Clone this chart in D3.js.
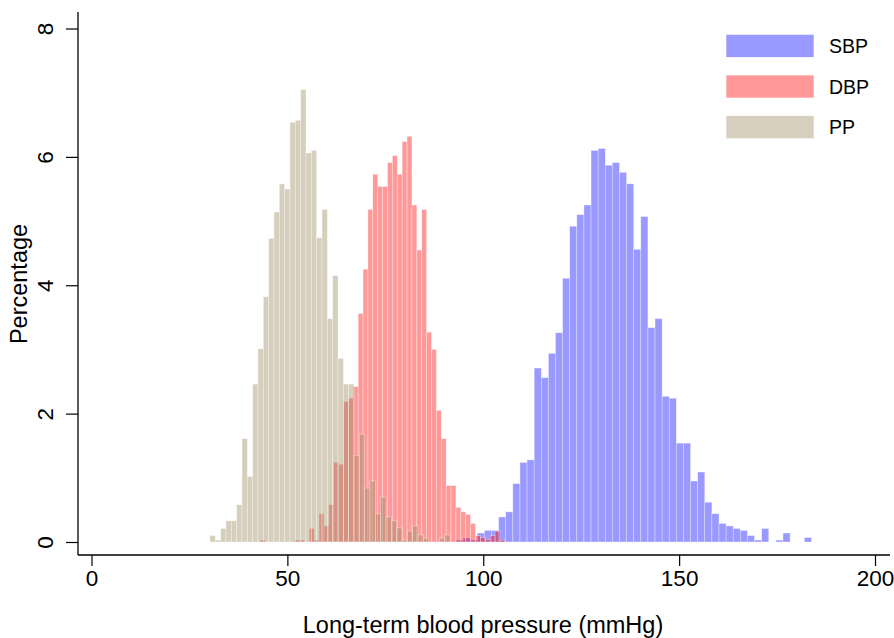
<!DOCTYPE html>
<html>
<head>
<meta charset="utf-8">
<script src="https://cdn.jsdelivr.net/npm/d3@7"></script>
<style>
  html, body { margin: 0; padding: 0; background: #fff; }
  svg { display: block; font-family: "Liberation Sans", Arial, Helvetica, sans-serif; }
</style>
</head>
<body>
<svg id="chart" width="894" height="638"></svg>
<script>
// ---------------- data ----------------
const seriesNames = ["SBP", "DBP", "PP"];

// histogram bin layout (value of first bin edge, bin width, in mmHg)
const sbpStart = 93.04, sbpWidth = 1.8146;
const dbpStart = 43.11, dbpWidth = 1.248;
const ppStart  = 30.25, ppWidth  = 1.3614;

// percentages per bin
const sbpValues = [0.03, 0.06, 0.03, 0.14, 0.18, 0.18, 0.39, 0.47, 0.91, 1.24,
                   1.28, 2.71, 2.56, 2.94, 3.26, 4.11, 4.92, 5.10, 5.25, 6.10,
                   6.13, 5.87, 5.91, 5.76, 5.58, 4.56, 5.07, 3.34, 3.48, 2.27,
                   2.24, 1.54, 1.54, 0.95, 1.09, 0.62, 0.44, 0.29, 0.25, 0.21,
                   0.18, 0.10, 0.03, 0.21, 0.00, 0.03, 0.14, 0.00, 0.00, 0.07];
const dbpValues = [0.03, 0.00, 0.00, 0.00, 0.00, 0.00, 0.00, 0.03, 0.03, 0.00,
                   0.21, 0.03, 0.44, 0.25, 0.58, 1.24, 1.21, 2.19, 2.24, 2.42,
                   3.56, 4.25, 5.18, 5.73, 5.54, 5.54, 5.91, 6.02, 5.73, 6.24,
                   6.32, 5.25, 4.55, 5.18, 3.27, 3.00, 2.05, 1.61, 0.88, 0.88,
                   0.54, 0.47, 0.43, 0.29, 0.10, 0.07, 0.04, 0.10, 0.17, 0.03];
const ppValues  = [0.10, 0.03, 0.21, 0.33, 0.33, 0.58, 1.61, 1.02, 2.46, 3.01,
                   3.82, 4.73, 5.14, 5.58, 5.50, 6.54, 6.57, 7.05, 6.06, 6.10,
                   4.74, 5.18, 3.48, 4.15, 2.86, 2.46, 2.46, 1.35, 1.68, 0.84,
                   0.95, 0.44, 0.70, 0.39, 0.33, 0.22, 0.03, 0.17, 0.25, 0.11,
                   0.06, 0.00, 0.00, 0.06, 0.11];

const xTicks = [0, 50, 100, 150, 200];
const yTicks = [0, 2, 4, 6, 8];
const xTitle = "Long-term blood pressure (mmHg)";
const yTitle = "Percentage";

// ---------------- drawing ----------------
const svg = d3.select("#chart");
const colors = { SBP: "rgb(0,0,255)", DBP: "rgb(255,0,0)", PP: "rgb(153,135,90)" };
const fillOpacity = 0.4;

const x = d3.scaleLinear().domain([0, 200]).range([91.5, 875]);
const y = d3.scaleLinear().domain([0, 8]).range([542, 28.5]);

const axisX = 78, axisY = 555;
const tickFont = 22.5, titleFont = 23.5, legendFont = 19.5;

function bins(values, start, width) {
  return values.map((v, i) => ({ x0: start + i * width, x1: start + (i + 1) * width, v }));
}
const data = {
  SBP: bins(sbpValues, sbpStart, sbpWidth),
  DBP: bins(dbpValues, dbpStart, dbpWidth),
  PP:  bins(ppValues, ppStart, ppWidth)
};

const plot = svg.append("g");
seriesNames.forEach(name => {
  plot.append("g").selectAll("rect")
    .data(data[name].filter(d => d.v > 0))
    .join("rect")
    .attr("x", d => x(d.x0))
    .attr("width", d => x(d.x1) - x(d.x0))
    .attr("y", d => y(d.v))
    .attr("height", d => y(0) - y(d.v))
    .attr("fill", colors[name])
    .attr("fill-opacity", fillOpacity)
    .attr("stroke", "#ffffff")
    .attr("stroke-opacity", 0.55)
    .attr("stroke-width", 0.6);
});

// axes lines
svg.append("line").attr("x1", axisX).attr("x2", axisX).attr("y1", 12).attr("y2", axisY)
  .attr("stroke", "#000").attr("stroke-width", 1.3);
svg.append("line").attr("x1", axisX).attr("x2", 890).attr("y1", axisY).attr("y2", axisY)
  .attr("stroke", "#000").attr("stroke-width", 1.3);

// x axis
const gx = svg.append("g").attr("transform", `translate(0,${axisY})`)
  .call(d3.axisBottom(x).tickValues(xTicks).tickSize(11).tickPadding(4).tickFormat(d3.format("d")));
gx.select(".domain").remove();
gx.selectAll(".tick line").attr("stroke", "#000").attr("stroke-width", 1.2);
gx.selectAll(".tick text").attr("font-size", tickFont).attr("fill", "#000")
  .attr("font-family", "'Liberation Sans', Arial, sans-serif");

// y axis
const gy = svg.append("g").attr("transform", `translate(${axisX},0)`)
  .call(d3.axisLeft(y).tickValues(yTicks).tickSize(12).tickPadding(0).tickFormat(d3.format("d")));
gy.select(".domain").remove();
gy.selectAll(".tick line").attr("stroke", "#000").attr("stroke-width", 1.2);
gy.selectAll(".tick text")
  .attr("font-size", tickFont).attr("fill", "#000")
  .attr("font-family", "'Liberation Sans', Arial, sans-serif")
  .attr("x", 0).attr("dy", null)
  .attr("text-anchor", "middle")
  .attr("dominant-baseline", "central")
  .attr("transform", "translate(-33,0) rotate(-90)");

// titles
svg.append("text").attr("x", 483).attr("y", 625).attr("text-anchor", "middle")
  .attr("dominant-baseline", "central")
  .attr("font-size", titleFont).attr("fill", "#000").text(xTitle);
svg.append("text").attr("transform", "translate(19,284) rotate(-90)")
  .attr("text-anchor", "middle").attr("dominant-baseline", "central")
  .attr("font-size", titleFont).attr("fill", "#000").text(yTitle);

// legend
const legend = svg.append("g");
seriesNames.forEach((name, i) => {
  const top = 34.3 + i * 40.7;
  legend.append("rect").attr("x", 726).attr("y", top).attr("width", 88).attr("height", 23)
    .attr("fill", colors[name]).attr("fill-opacity", fillOpacity)
    .attr("stroke", "#fff").attr("stroke-width", 0.6);
  legend.append("text").attr("x", 829).attr("y", top + 11.5)
    .attr("dominant-baseline", "central").attr("font-size", legendFont).attr("fill", "#000").text(name);
});
</script>
</body>
</html>
